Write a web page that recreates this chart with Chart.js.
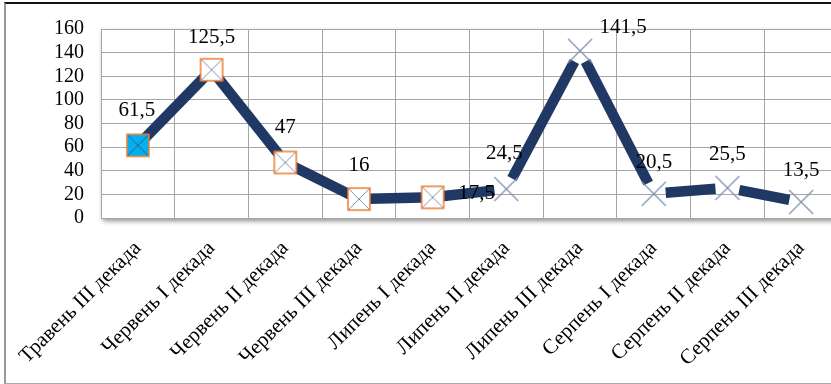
<!DOCTYPE html>
<html>
<head>
<meta charset="utf-8">
<script src="https://cdn.jsdelivr.net/npm/chart.js@4.4.1/dist/chart.umd.min.js"></script>
<style>
  html, body { margin: 0; padding: 0; background: #fff; overflow: hidden; }
  #frame {
    position: absolute; left: 4px; top: 2px; width: 845px; height: 379px;
    border-top: 2px solid #111; border-left: 2px solid #999; border-bottom: 1px solid #aaa;
  }
  #wrap { position: absolute; left: 0; top: 0; width: 852px; height: 384px; }
</style>
</head>
<body>
<div id="frame"></div>
<div id="wrap"><canvas id="chart"></canvas></div>
<script>
// ── Data ──
const labels = [
  "Травень III декада", "Червень I декада", "Червень II декада", "Червень III декада",
  "Липень I декада", "Липень II декада", "Липень III декада",
  "Серпень I декада", "Серпень II декада", "Серпень III декада"
];
const values = [61.5, 125.5, 47, 16, 17.5, 24.5, 141.5, 20.5, 25.5, 13.5];
const yTicks = [0, 20, 40, 60, 80, 100, 120, 140, 160];

// label offsets (px) relative to each point
const labelDX = [-1, 0, 0, 0, 44, -2, 43, 0, 0, 0];
const labelDY = [-35, -32, -35, -34, -4, -36, -23, -31, -33, -32];

const LINE = "#203864";
const ORANGE = "#ed7d31";
const XCOL = "#7f8fb0";
const FONT = "'Liberation Serif', 'Times New Roman', serif";

function marker(kind) {
  const s = 26, c = document.createElement("canvas");
  c.width = s; c.height = s;
  const g = c.getContext("2d");
  if (kind !== "x") {
    g.fillStyle = kind === "filled" ? "#00b0f0" : "#fff";
    g.fillRect(2, 2, 22, 22);
    g.strokeStyle = ORANGE; g.lineWidth = 1.5;
    g.strokeRect(2, 2, 22, 22);
    g.strokeStyle = kind === "filled" ? "#3a5a8c" : XCOL; g.lineWidth = 1;
    g.beginPath();
    g.moveTo(3, 3); g.lineTo(23, 23); g.moveTo(23, 3); g.lineTo(3, 23);
    g.stroke();
  } else {
    g.strokeStyle = XCOL; g.lineWidth = 1.2;
    g.beginPath();
    g.moveTo(1, 1); g.lineTo(25, 25); g.moveTo(25, 1); g.lineTo(1, 25);
    g.stroke();
  }
  return c;
}
const styles = values.map((v, i) => i === 0 ? marker("filled") : i < 5 ? marker("sq") : marker("x"));

// thick line with butt ends, shortened near markers (Excel style)
const gapLine = {
  id: "gapLine",
  beforeDraw(chart) {
    const { ctx, chartArea: a } = chart;
    ctx.save();
    ctx.shadowColor = "rgba(0,0,0,0.45)";
    ctx.shadowBlur = 5; ctx.shadowOffsetX = 2; ctx.shadowOffsetY = 3;
    ctx.fillStyle = "#fff";
    ctx.fillRect(a.left, a.top, a.right - a.left, a.bottom - a.top);
    ctx.restore();
  },
  beforeDatasetsDraw(chart) {
    const pts = chart.getDatasetMeta(0).data;
    const ctx = chart.ctx;
    ctx.save();
    ctx.strokeStyle = LINE; ctx.lineWidth = 10.5; ctx.lineCap = "butt";
    for (let i = 0; i < pts.length - 1; i++) {
      const p = pts[i], q = pts[i + 1];
      const dx = q.x - p.x, dy = q.y - p.y, len = Math.hypot(dx, dy);
      const g0 = i < 5 ? 0 : 12, g1 = i + 1 < 5 ? 0 : 12;
      ctx.beginPath();
      ctx.moveTo(p.x + dx * g0 / len, p.y + dy * g0 / len);
      ctx.lineTo(q.x - dx * g1 / len, q.y - dy * g1 / len);
      ctx.stroke();
    }
    ctx.restore();
  },
  afterDatasetsDraw(chart) {
    const pts = chart.getDatasetMeta(0).data;
    const ctx = chart.ctx;
    ctx.save();
    ctx.font = "21px " + FONT;
    ctx.fillStyle = "#000";
    ctx.textAlign = "center"; ctx.textBaseline = "middle";
    pts.forEach((p, i) => {
      ctx.fillText(String(values[i]).replace(".", ","), p.x + labelDX[i], p.y + labelDY[i]);
    });
    ctx.restore();
  }
};

new Chart(document.getElementById("chart"), {
  type: "line",
  data: {
    labels,
    datasets: [{
      data: values,
      showLine: false,
      pointStyle: styles,
      pointRadius: 13,
      pointHoverRadius: 13
    }]
  },
  plugins: [gapLine],
  options: {
    responsive: true,
    maintainAspectRatio: false,
    animation: false,
    events: [],
    layout: { padding: { top: 22, right: 4, left: 0, bottom: 0 } },
    plugins: { legend: { display: false }, tooltip: { enabled: false } },
    scales: {
      x: {
        offset: true,
        grid: { offset: true, color: "#a6a6a6", drawTicks: false },
        border: { color: "#a6a6a6" },
        ticks: {
          color: "#000", font: { family: FONT, size: 21 },
          minRotation: 45, maxRotation: 45, padding: 18, autoSkip: false
        },
        afterFit(s) { s.height = 166; }
      },
      y: {
        min: 0, max: 160,
        afterBuildTicks(s) { s.ticks = yTicks.map(v => ({ value: v })); },
        grid: { color: "#a6a6a6", drawTicks: false },
        border: { color: "#a6a6a6" },
        ticks: { color: "#000", font: { family: FONT, size: 20 }, padding: 17, autoSkip: false },
        afterFit(s) { s.width = 100; }
      }
    }
  }
});
</script>
</body>
</html>
